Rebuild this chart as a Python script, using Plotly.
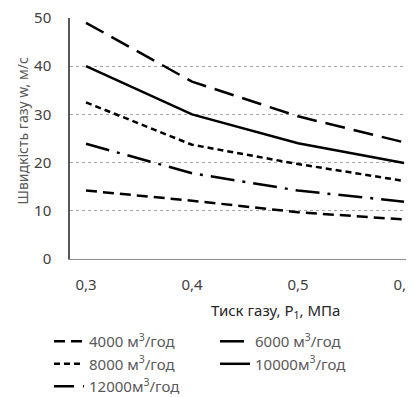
import plotly.graph_objects as go

pressure = [0.3, 0.4, 0.5, 0.6]
names = ["4000 м<sup>3</sup>/год", "6000 м<sup>3</sup>/год", "8000 м<sup>3</sup>/год",
         "10000м<sup>3</sup>/год", "12000м<sup>3</sup>/год"]
v4000 = [14.2, 12.1, 9.7, 8.2]
v6000 = [23.9, 17.8, 14.2, 11.9]
v8000 = [32.5, 23.7, 19.7, 16.2]
v10000 = [40.0, 30.0, 24.0, 19.9]
v12000 = [49.0, 36.8, 29.6, 24.2]
y_ticks = [0, 10, 20, 30, 40, 50]
x_ticks = [0.3, 0.4, 0.5, 0.6]

series = [v4000, v6000, v8000, v10000, v12000]
dashes = ["11px,6px", "24px,8px,3px,8px", "6px,4px", "solid", "20px,9px"]

FONT = "Noto Sans"
fig = go.Figure()
for nm, vals, d in zip(names, series, dashes):
    fig.add_trace(go.Scatter(x=pressure, y=vals, name=nm, mode="lines",
                             line=dict(color="black", width=2.5, dash=d)))

# overlay axis used only for dotted gridlines
fig.add_trace(go.Scatter(x=[0.3], y=[0], yaxis="y2", showlegend=False,
                         mode="markers", marker=dict(opacity=0), hoverinfo="skip"))

# page body adds an 8px offset, so the figure is 8px smaller than the window
fig.update_layout(
    width=406, height=389,
    margin=dict(l=62, r=0, t=10, b=138, autoexpand=False),
    plot_bgcolor="white", paper_bgcolor="white",
    separators=", ",
    font=dict(family=FONT, size=15, color="#404040"),
    xaxis=dict(range=[0.2849, 0.6094], tickvals=x_ticks, tickformat=".1f",
               showgrid=False, zeroline=False, showline=True, linecolor="#8c8c8c",
               linewidth=1, ticks="", ticklabelstandoff=12, ticklabeloverflow="allow",
               tickfont=dict(size=15, color="#404040")),
    yaxis=dict(range=[0, 50], tickvals=y_ticks, showgrid=False, zeroline=False,
               showline=True, linecolor="#595959", linewidth=1.5,
               ticklabelstandoff=14, ticklabeloverflow="allow",
               tickfont=dict(size=15, color="#404040")),
    yaxis2=dict(range=[0, 50], overlaying="y", tickvals=y_ticks[1:-1],
                showticklabels=False, showgrid=True, gridcolor="#a6a6a6",
                griddash="dot", gridwidth=1, zeroline=False, showline=False),
    legend=dict(orientation="h", x=-0.061, xanchor="left", y=-0.274, yanchor="top",
                entrywidth=121, entrywidthmode="pixels",
                font=dict(family=FONT, size=15, color="#595959"),
                bgcolor="rgba(0,0,0,0)", traceorder="normal"),
    showlegend=True,
)

fig.add_annotation(text="Тиск газу, Р<sub>1</sub>, МПа", xref="paper", yref="paper",
                   x=0.596, y=-0.214, xanchor="center", yanchor="middle", showarrow=False,
                   font=dict(family=FONT, size=15, color="#262626"))
fig.add_annotation(text="Швидкість газу w, м/с", xref="paper", yref="paper",
                   x=-0.1395, y=0.529, xanchor="center", yanchor="middle",
                   textangle=-90, showarrow=False,
                   font=dict(family=FONT, size=14, color="#595959"))

fig.write_html("out.html")
